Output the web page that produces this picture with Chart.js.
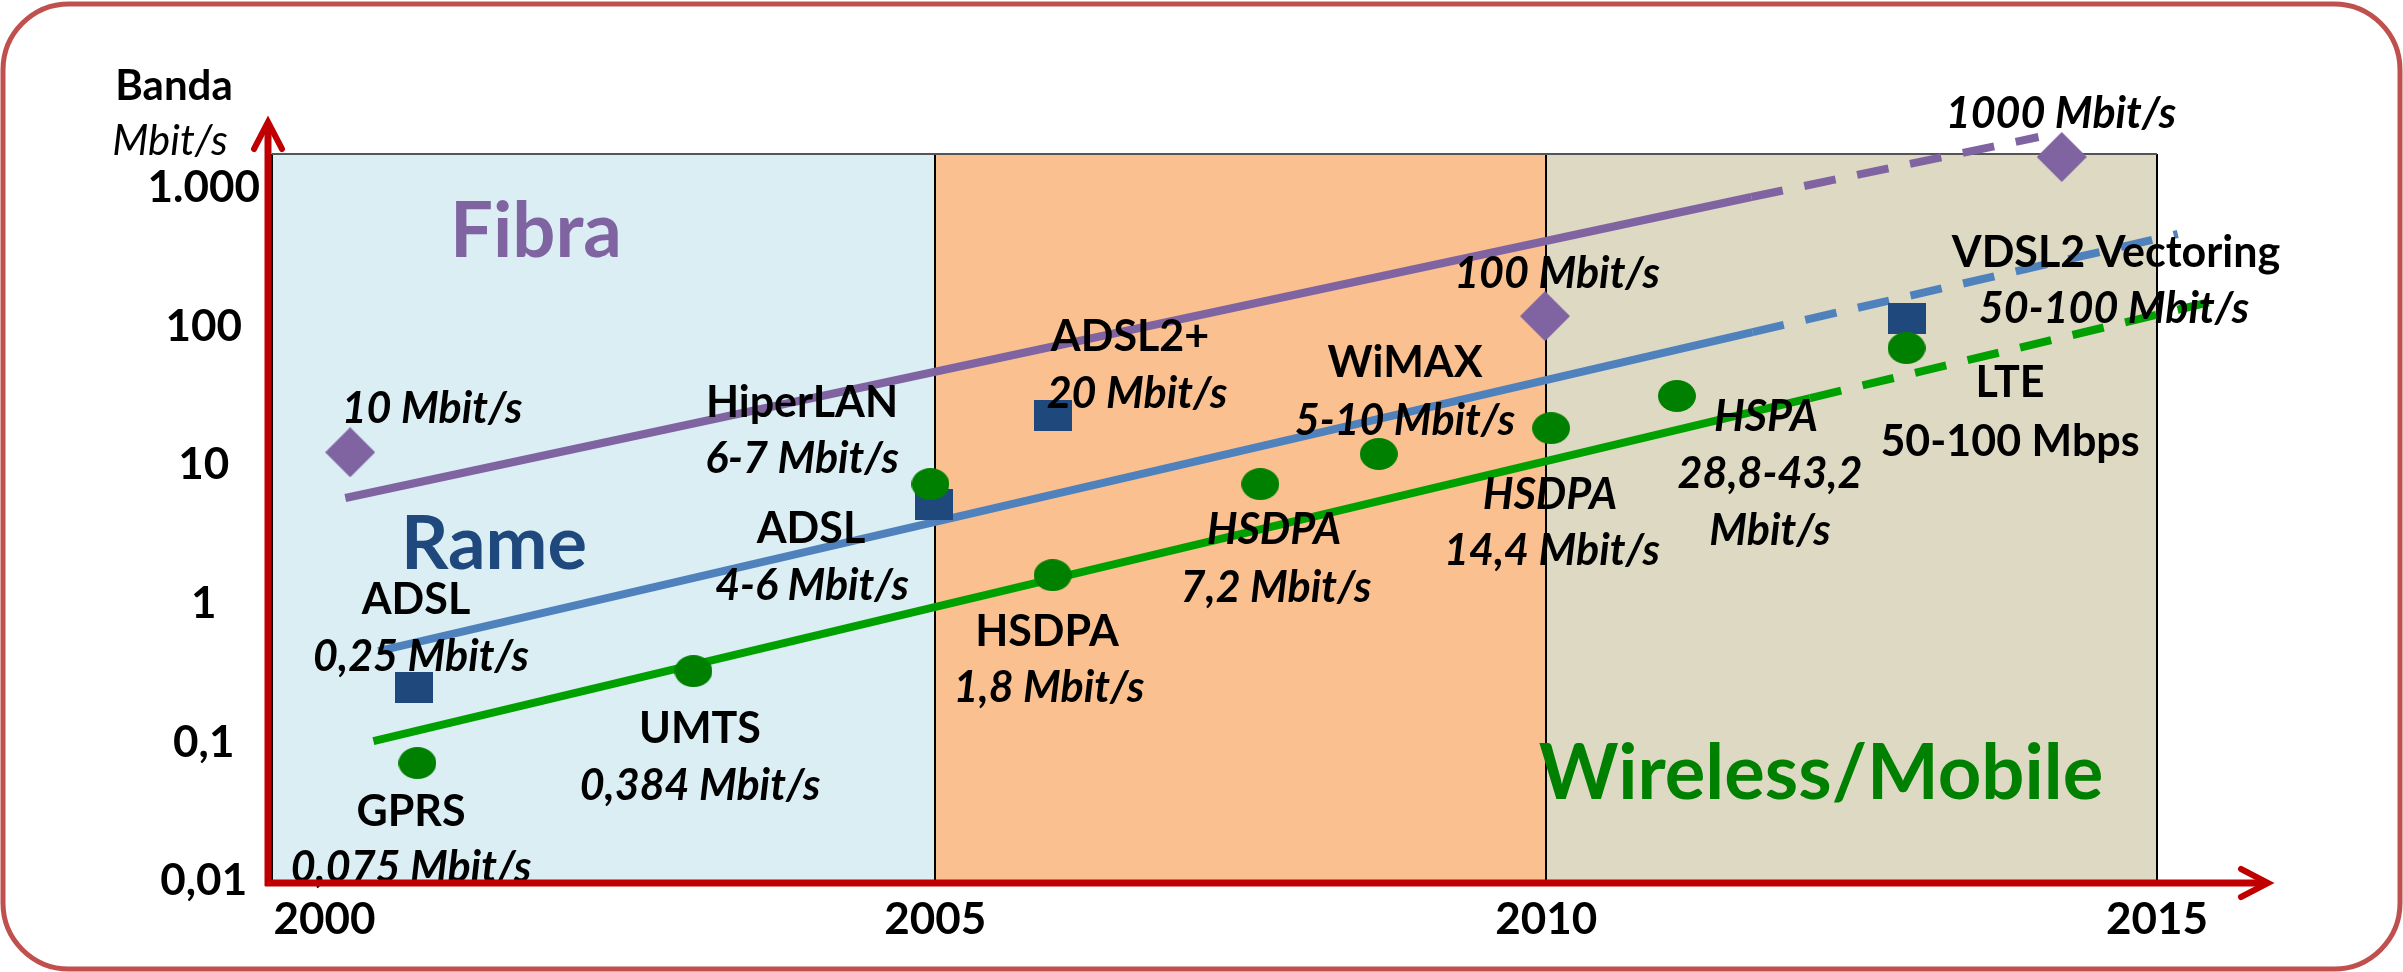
<!DOCTYPE html>
<html>
<head>
<meta charset="utf-8">
<script src="https://cdn.jsdelivr.net/npm/chart.js@4.4.1/dist/chart.umd.min.js"></script>
<style>
  html, body { margin: 0; padding: 0; background: #fff; }
  #wrap { width: 2403px; height: 972px; }
</style>
</head>
<body>
<div id="wrap"><canvas id="bandChart" width="2403" height="972"></canvas></div>
<script>
// axis ranges and tick labels
const YEAR_MIN = 1999.57;
const YEAR_MAX = 2015;
const SPEED_MIN = 0.01;
const SPEED_MAX = 1760;
const xTicks = [2000, 2005, 2010, 2015];
const yTicks = [0.01, 0.1, 1, 10, 100, 1000];
const yTickLabels = ['0,01', '0,1', '1', '10', '100', '1.000'];

// technology periods shaded behind the plot
const bandEdges = [YEAR_MIN, 2005, 2010, 2015];

// Fibra (diamonds)
const fibraYears = [2000.21, 2009.99, 2014.22];
const fibraSpeeds = [12.4, 119, 1675];
// Rame (squares)
const rameYears = [2000.73, 2004.99, 2005.96, 2012.95];
const rameSpeeds = [0.247, 5.17, 23, 113.5];
// Wireless/Mobile (circles)
const mobileYears = [2000.76, 2003.02, 2004.96, 2005.96, 2007.66, 2008.63, 2010.04, 2011.07, 2012.95];
const mobileSpeeds = [0.071, 0.327, 7.31, 1.61, 7.31, 12.05, 18.5, 31.6, 70.1];

// trend lines: start, end of the solid part, end of the dashed projection
const fibraTrendYears = [2000.17, 2011.68, 2014.03];
const fibraTrendSpeeds = [5.8, 861, 2333];
const rameTrendYears = [2000.44, 2011.69, 2015.17];
const rameTrendSpeeds = [0.456, 91.4, 466];
const mobileTrendYears = [2000.40, 2012.16, 2015.50];
const mobileTrendSpeeds = [0.102, 30.5, 155.6];

// styling
const BAND_COLORS = ['#DAEEF3', '#FAC090', '#DDD9C3'];
const PURPLE = '#8064A2';
const BLUE_DARK = '#1F497D';
const BLUE_LINE = '#4F81BD';
const GREEN_DOT = '#008000';
const GREEN_LINE = '#00A000';
const AXIS_RED = '#C00000';
const FONT = 'Lato';

// text annotations (pixel centre of the cap height)
const labels = [
  { t: 'Banda', x: 174, y: 85, s: 42, f: 'bold' },
  { t: 'Mbit/s', x: 170, y: 140, s: 42, f: 'italic' },
  { t: 'Fibra', x: 536, y: 230, s: 76, f: 'bold', c: PURPLE },
  { t: 'Rame', x: 494, y: 543, s: 74, f: 'bold', c: BLUE_DARK },
  { t: 'Wireless/Mobile', x: 1821, y: 772, s: 76, f: 'bold', c: GREEN_DOT },
  { t: '10 Mbit/s', x: 432, y: 408, f: 'italic bold' },
  { t: 'ADSL', x: 416, y: 599, f: 'bold' },
  { t: '0,25 Mbit/s', x: 421, y: 656, f: 'italic bold' },
  { t: 'GPRS', x: 411, y: 811, f: 'bold' },
  { t: '0,075 Mbit/s', x: 411, y: 867, f: 'italic bold' },
  { t: 'UMTS', x: 700, y: 728, f: 'bold' },
  { t: '0,384 Mbit/s', x: 700, y: 785, f: 'italic bold' },
  { t: 'HiperLAN', x: 802, y: 402, f: 'bold' },
  { t: '6-7 Mbit/s', x: 802, y: 458, f: 'italic bold' },
  { t: 'ADSL', x: 811, y: 528, f: 'bold' },
  { t: '4-6 Mbit/s', x: 812, y: 585, f: 'italic bold' },
  { t: 'ADSL2+', x: 1130, y: 336, f: 'bold' },
  { t: '20 Mbit/s', x: 1137, y: 393, f: 'italic bold' },
  { t: 'HSDPA', x: 1047, y: 631, f: 'bold' },
  { t: '1,8 Mbit/s', x: 1049, y: 687, f: 'italic bold' },
  { t: 'HSDPA', x: 1274, y: 529, f: 'italic bold' },
  { t: '7,2 Mbit/s', x: 1276, y: 587, f: 'italic bold' },
  { t: 'WiMAX', x: 1405, y: 362, f: 'bold' },
  { t: '5-10 Mbit/s', x: 1405, y: 420, f: 'italic bold' },
  { t: 'HSDPA', x: 1550, y: 494, f: 'italic bold' },
  { t: '14,4 Mbit/s', x: 1552, y: 550, f: 'italic bold' },
  { t: '100 Mbit/s', x: 1557, y: 273, f: 'italic bold' },
  { t: 'HSPA', x: 1766, y: 416, f: 'italic bold' },
  { t: '28,8-43,2', x: 1770, y: 473, f: 'italic bold' },
  { t: 'Mbit/s', x: 1770, y: 530, f: 'italic bold' },
  { t: '1000 Mbit/s', x: 2061, y: 113, f: 'italic bold' },
  { t: 'VDSL2 Vectoring', x: 2116, y: 252, f: 'bold' },
  { t: '50-100 Mbit/s', x: 2114, y: 308, f: 'italic bold' },
  { t: 'LTE', x: 2010, y: 382, f: 'bold' },
  { t: '50-100 Mbps', x: 2010, y: 441, f: 'bold' }
];

function makeMarker(w, h, paint) {
  const c = document.createElement('canvas');
  c.width = w;
  c.height = h;
  paint(c.getContext('2d'), w, h);
  return c;
}
const circleMark = makeMarker(38, 32, (g, w, h) => {
  g.fillStyle = GREEN_DOT;
  g.beginPath();
  g.ellipse(w / 2, h / 2, w / 2, h / 2, 0, 0, Math.PI * 2);
  g.fill();
});
const squareMark = makeMarker(38, 31, (g, w, h) => {
  g.fillStyle = BLUE_DARK;
  g.fillRect(0, 0, w, h);
});
const diamondMark = makeMarker(50, 50, (g, w, h) => {
  g.fillStyle = PURPLE;
  g.beginPath();
  g.moveTo(w / 2, 0);
  g.lineTo(w, h / 2);
  g.lineTo(w / 2, h);
  g.lineTo(0, h / 2);
  g.closePath();
  g.fill();
});

const toPoints = (xs, ys) => xs.map((x, i) => ({ x, y: ys[i] }));

function markerSet(label, xs, ys, mark) {
  return {
    label,
    data: toPoints(xs, ys),
    pointStyle: mark,
    pointRadius: 20,
    pointHoverRadius: 20,
    showLine: false,
    clip: false
  };
}
function trendSet(label, xs, ys, color) {
  return {
    label,
    data: toPoints(xs, ys),
    showLine: true,
    borderColor: color,
    borderWidth: 8,
    borderCapStyle: 'butt',
    pointRadius: 0,
    pointHoverRadius: 0,
    clip: false,
    segment: { borderDash: ctx => (ctx.p0DataIndex >= 1 ? [32, 22] : []) }
  };
}

const bandsPlugin = {
  id: 'bands',
  beforeDatasetsDraw(chart) {
    const { ctx, chartArea: a, scales: { x } } = chart;
    ctx.save();
    for (let i = 0; i < bandEdges.length - 1; i++) {
      const x0 = x.getPixelForValue(bandEdges[i]);
      const x1 = x.getPixelForValue(bandEdges[i + 1]);
      ctx.fillStyle = BAND_COLORS[i];
      ctx.fillRect(x0, a.top, x1 - x0, a.bottom - a.top);
    }
    ctx.strokeStyle = '#000';
    ctx.lineWidth = 2;
    ctx.beginPath();
    bandEdges.forEach(v => {
      const px = Math.round(x.getPixelForValue(v));
      ctx.moveTo(px, a.top);
      ctx.lineTo(px, a.bottom);
    });
    ctx.stroke();
    ctx.strokeStyle = '#555';
    ctx.beginPath();
    ctx.moveTo(a.left, a.top);
    ctx.lineTo(a.right, a.top);
    ctx.stroke();
    ctx.restore();
  }
};

const labelsPlugin = {
  id: 'labels',
  afterDatasetsDraw(chart) {
    const ctx = chart.ctx;
    ctx.save();
    ctx.textAlign = 'center';
    ctx.textBaseline = 'alphabetic';
    labels.forEach(l => {
      const size = l.s || 43;
      ctx.font = `${l.f} ${size}px ${FONT}`;
      ctx.fillStyle = l.c || '#000';
      ctx.fillText(l.t, l.x, l.y + size * 0.358);
    });
    ctx.restore();
  }
};

const framePlugin = {
  id: 'frame',
  afterDraw(chart) {
    const { ctx, chartArea: a } = chart;
    ctx.save();
    // axis arrows
    const ax = a.left - 4;
    const ay = a.bottom + 2;
    const yTip = 122;
    const xTip = 2268;
    ctx.strokeStyle = AXIS_RED;
    ctx.lineWidth = 7;
    ctx.lineCap = 'butt';
    ctx.beginPath();
    ctx.moveTo(ax, ay + 3);
    ctx.lineTo(ax, yTip + 2);
    ctx.moveTo(ax - 3, ay);
    ctx.lineTo(xTip - 2, ay);
    ctx.stroke();
    ctx.lineWidth = 6;
    ctx.lineJoin = 'miter';
    ctx.lineCap = 'round';
    ctx.beginPath();
    ctx.moveTo(ax - 14, yTip + 27);
    ctx.lineTo(ax, yTip);
    ctx.lineTo(ax + 14, yTip + 27);
    ctx.moveTo(xTip - 27, ay - 14);
    ctx.lineTo(xTip, ay);
    ctx.lineTo(xTip - 27, ay + 14);
    ctx.stroke();
    // rounded outer frame
    const fx = 3, fy = 4, fw = 2397, fh = 965, r = 66;
    ctx.strokeStyle = '#C0504D';
    ctx.lineWidth = 5;
    ctx.lineCap = 'butt';
    ctx.beginPath();
    ctx.moveTo(fx + r, fy);
    ctx.arcTo(fx + fw, fy, fx + fw, fy + fh, r);
    ctx.arcTo(fx + fw, fy + fh, fx, fy + fh, r);
    ctx.arcTo(fx, fy + fh, fx, fy, r);
    ctx.arcTo(fx, fy, fx + fw, fy, r);
    ctx.closePath();
    ctx.stroke();
    ctx.restore();
  }
};

const tickFont = { family: FONT, size: 44, weight: 'bold' };

new Chart(document.getElementById('bandChart').getContext('2d'), {
  type: 'scatter',
  data: {
    datasets: [
      markerSet('Wireless/Mobile', mobileYears, mobileSpeeds, circleMark),
      markerSet('Rame', rameYears, rameSpeeds, squareMark),
      markerSet('Fibra', fibraYears, fibraSpeeds, diamondMark),
      trendSet('Trend Wireless', mobileTrendYears, mobileTrendSpeeds, GREEN_LINE),
      trendSet('Trend Rame', rameTrendYears, rameTrendSpeeds, BLUE_LINE),
      trendSet('Trend Fibra', fibraTrendYears, fibraTrendSpeeds, PURPLE)
    ]
  },
  options: {
    responsive: false,
    animation: false,
    devicePixelRatio: 1,
    layout: { padding: { left: 92, right: 246, top: 154, bottom: 21 } },
    plugins: { legend: { display: false }, tooltip: { enabled: false } },
    scales: {
      x: {
        type: 'linear',
        min: YEAR_MIN,
        max: YEAR_MAX,
        grid: { display: false, drawTicks: false },
        border: { display: false },
        afterBuildTicks: s => { s.ticks = xTicks.map(value => ({ value })); },
        afterFit: s => { s.height = 70; },
        ticks: { font: tickFont, color: '#000', padding: 12, maxRotation: 0, autoSkip: false, callback: v => String(v) }
      },
      y: {
        type: 'logarithmic',
        min: SPEED_MIN,
        max: SPEED_MAX,
        grid: { display: false, drawTicks: false },
        border: { display: false },
        afterBuildTicks: s => { s.ticks = yTicks.map(value => ({ value })); },
        afterFit: s => { s.width = 180; },
        ticks: {
          font: tickFont,
          color: '#000',
          padding: 12,
          crossAlign: 'center',
          autoSkip: false,
          callback: v => yTickLabels[yTicks.indexOf(v)]
        }
      }
    }
  },
  plugins: [bandsPlugin, labelsPlugin, framePlugin]
});
</script>
</body>
</html>
